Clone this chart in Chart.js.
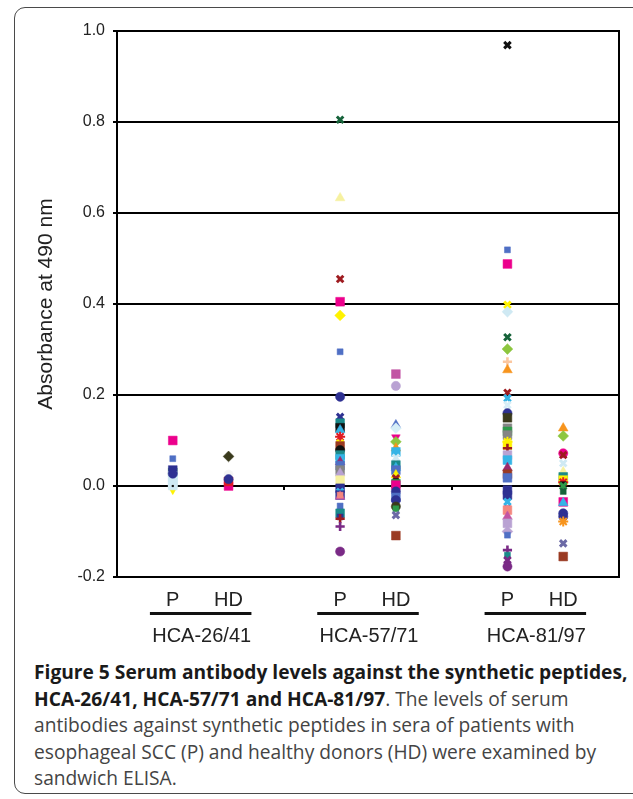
<!DOCTYPE html>
<html>
<head>
<meta charset="utf-8">
<script src="https://cdn.jsdelivr.net/npm/chart.js@4.4.1/dist/chart.umd.min.js"></script>
<style>
  html, body { margin: 0; padding: 0; background: #fff; overflow: hidden; }
  #wrap { position: relative; width: 633px; height: 799px; overflow: hidden; }
  #frame { position: absolute; left: 14px; top: 7px; width: 700px; height: 787px;
           border: 1.5px solid #4a4a4a; border-radius: 11px; box-sizing: border-box; }
  #c { position: absolute; left: 0; top: 0; }
  #caption { position: absolute; left: 34px; top: 659px; white-space: nowrap;
             font-family: "Open Sans", sans-serif; font-size: 19.2px; line-height: 26.6px; color: #444; }
  #caption b { color: #1a1a1a; font-weight: 700; }
</style>
</head>
<body>
<div id="wrap">
  <div id="frame"></div>
  <canvas id="c" width="633" height="658"></canvas>
  <div id="caption"><b>Figure 5 Serum antibody levels against the synthetic peptides,<br>HCA-26/41, HCA-57/71 and HCA-81/97</b>. The levels of serum<br>antibodies against synthetic peptides in sera of patients with<br>esophageal SCC (P) and healthy donors (HD) were examined by<br>sandwich ELISA.</div>
</div>
<script>
// ---------- DATA ----------
const groups = ['HCA-26/41', 'HCA-57/71', 'HCA-81/97'];
const subgroups = ['P', 'HD'];
const yTicks = [-0.2, 0.0, 0.2, 0.4, 0.6, 0.8, 1.0];

const p26Values  = [-0.008, 0.100, 0.060, 0.030, 0.035, 0.022, 0.018, 0.012, 0.008, 0.004, 0.001, 0.032, 0.027, 0.0];
const hd26Values = [0.065, 0.025, 0.0, 0.010, 0.015];

const p57Values  = [0.805, 0.633, 0.455, 0.405, 0.375, 0.295, 0.196, 0.152, 0.138, 0.128, 0.123, 0.108, 0.094, 0.088,
                    0.079, 0.068, 0.060, 0.053, 0.045, 0.035, 0.028, 0.013, -0.005, -0.013, -0.020, -0.023, -0.020,
                    -0.044, -0.060, -0.068, -0.072, -0.089, -0.144];
const hd57Values = [0.246, 0.220, 0.134, 0.127, 0.107, 0.097, 0.083, 0.075, 0.062, 0.046, 0.040, 0.035, 0.024, 0.017,
                    0.010, 0.005, 0.002, -0.012, -0.025, -0.031, -0.045, -0.050, -0.064, -0.109];

const p81Values  = [0.969, 0.519, 0.488, 0.398, 0.383, 0.327, 0.301, 0.273, 0.255, 0.205, 0.193, 0.178, 0.160, 0.150,
                    0.127, 0.120, 0.112, 0.097, 0.090, 0.083, 0.068, 0.057, 0.040, 0.026, 0.018, -0.009, -0.020,
                    -0.035, -0.050, -0.053, -0.067, -0.082, -0.100, -0.108, -0.141, -0.152, -0.163, -0.177];
const hd81Values = [0.127, 0.110, 0.072, 0.068, 0.050, 0.031, 0.020, 0.013, 0.008, 0.003, 0.0, -0.012, -0.035, -0.037,
                    -0.060, -0.067, -0.078, -0.126, -0.155];

// ---------- STYLES (marker kind : colour key) ----------
const palette = {
  pink: '#ec008c', blue: '#4f6fc4', navy: '#2e3192', teal: '#1a8a8a', green: '#2e9a4a', dkgreen: '#16633a',
  yellow: '#fff200', ltyellow: '#f6f1a0', ltblue: '#cfe9f3', cyan: '#35b4e6', lavender: '#b9a2d3', purple: '#7a2a86',
  dkred: '#9e1b20', brown: '#9a3a22', orange: '#f7941d', ygreen: '#8dc63f', peach: '#fbc7a0', gray: '#858585',
  olive: '#3a3a1c', salmon: '#f4877f', slate: '#6c6aa6', dmag: '#c254a4', dkmag: '#9a2a6e', black: '#111111',
  red: '#e01b24', white: '#f4f4f4', ltcyan: '#d6eef7'
};
const p26Marks  = ['td:yellow', 'sq:pink', 'ss:blue', 'sq:green', 'sq:navy', 'sq:ltblue', 'sq:ltblue', 'sq:ltblue',
                   'sq:ltblue', 'sq:ltblue', 'sq:ltblue', 'x:navy', 'ci:navy', 'dot:black'];
const hd26Marks = ['di:olive', 'ci:white', 'sq:pink', 'sq:red', 'ci:navy'];
const p57Marks  = ['x:dkgreen', 'tr:ltyellow', 'x:dkred', 'sq:pink', 'di:yellow', 'ss:blue', 'ci:navy', 'x:navy', 'sq:teal',
                   'sq:black', 'tr:cyan', 'st:red', 'x:yellow', 'sq:brown', 'ci:black', 'sq:teal', 'sq:cyan', 'tr:dkmag',
                   'sq:blue', 'sq:gray', 'tr:lavender', 'sq:ltyellow', 'sq:navy', 'x:cyan', 'sq:navy', 'tr:dmag',
                   'ss:salmon', 'ss:blue', 'sq:teal', 'ss:navy', 'pl:dkred', 'pl:purple', 'ci:purple'];
const hd57Marks = ['sq:dmag', 'ci:lavender', 'tr:blue', 'di:ltcyan', 'td:pink', 'di:ygreen', 'tr:orange', 'sq:cyan',
                   'x:ltblue', 'sq:teal', 'tr:cyan', 'sq:blue', 'tr:yellow', 'x:dkred', 'ss:black', 'sq:green',
                   'sq:pink', 'ci:navy', 'sq:blue', 'ci:navy', 'ci:olive', 'ss:green', 'x:slate', 'sq:brown'];
const p81Marks  = ['x:black', 'ss:blue', 'sq:pink', 'x:yellow', 'di:ltblue', 'x:dkgreen', 'di:ygreen', 'pl:peach',
                   'tr:orange', 'x:dkred', 'x:cyan', 'x:ltcyan', 'ci:navy', 'sq:olive', 'sq:gray', 'sq:green', 'sq:gray',
                   'st:yellow', 'sq:yellow', 'pl:dkred', 'sq:lavender', 'sq:cyan', 'tr:dkmag', 'sq:brown', 'sq:blue',
                   'sq:navy', 'sq:navy', 'x:cyan', 'ss:purple', 'sq:salmon', 'tr:dmag', 'sq:lavender', 'di:lavender',
                   'ss:blue', 'pl:purple', 'ss:teal', 'x:purple', 'ci:purple'];
const hd81Marks = ['tr:orange', 'di:ygreen', 'ci:pink', 'x:dkred', 'x:ltblue', 'tr:ltyellow', 'sq:teal', 'sq:yellow',
                   'st:red', 'ss:black', 'x:green', 'ss:dkgreen', 'sq:pink', 'tr:cyan', 'ci:navy', 'ci:navy',
                   'st:orange', 'x:slate', 'sq:brown'];

const columns = [
  [p26Values, p26Marks], [hd26Values, hd26Marks],
  [p57Values, p57Marks], [hd57Values, hd57Marks],
  [p81Values, p81Marks], [hd81Values, hd81Marks]
];

const kinds = {
  sq:  { style: 'rect',      r: 6.2, bw: 0.5 },
  ss:  { style: 'rect',      r: 4.2, bw: 0.5 },
  ci:  { style: 'circle',    r: 4.6, bw: 0.5 },
  tr:  { style: 'triangle',  r: 5.6, bw: 0.5, rot: 0 },
  td:  { style: 'triangle',  r: 5.0, bw: 0.5, rot: 180 },
  di:  { style: 'rectRot',   r: 5.4, bw: 0.5 },
  x:   { style: 'crossRot',  r: 4.6, bw: 3 },
  pl:  { style: 'cross',     r: 4.6, bw: 2.6 },
  st:  { style: 'star',      r: 5.0, bw: 2 },
  dot: { style: 'rect',      r: 1.5, bw: 0 }
};

function colX(i) { // column position from group / subgroup order
  const g = Math.floor(i / subgroups.length), s = i % subgroups.length;
  return g * (subgroups.length + 1) + s + 1;
}
const xTickValues = columns.map((_, i) => colX(i));
const xMax = groups.length * (subgroups.length + 1);

const datasets = columns.map(([vals, marks], i) => {
  const k = marks.map(m => kinds[m.split(':')[0]]);
  const c = marks.map(m => palette[m.split(':')[1]]);
  return {
    label: subgroups[i % 2] + ' ' + groups[Math.floor(i / 2)],
    data: vals.map(v => ({ x: colX(i), y: v })),
    pointStyle: k.map(o => o.style),
    pointRadius: k.map(o => o.r),
    pointRotation: k.map(o => o.rot || 0),
    borderWidth: k.map(o => o.bw),
    backgroundColor: c,
    borderColor: c,
    pointHoverRadius: k.map(o => o.r)
  };
});

const FONT = '"Liberation Sans", Arial, sans-serif';

const decor = {
  id: 'decor',
  afterDraw(chart) {
    const { ctx, chartArea: a, scales: { x, y } } = chart;
    ctx.save();
    // right border
    ctx.strokeStyle = '#000';
    ctx.lineWidth = 2;
    ctx.beginPath();
    ctx.moveTo(a.right, a.top - 1);
    ctx.lineTo(a.right, a.bottom + 1);
    ctx.stroke();
    // small category separator ticks on zero line
    const y0 = y.getPixelForValue(0);
    for (let g = 1; g < groups.length; g++) {
      const px = x.getPixelForValue(g * (subgroups.length + 1));
      ctx.fillStyle = '#000';
      ctx.fillRect(Math.round(px) - 1, y0 + 1, 2, 3);
    }
    // group underlines and labels
    ctx.font = '20px ' + FONT;
    ctx.textAlign = 'center';
    ctx.textBaseline = 'middle';
    groups.forEach((name, g) => {
      const c = g * (subgroups.length + 1) + 1.5;
      const l = x.getPixelForValue(c - 0.91), r = x.getPixelForValue(c + 0.91);
      ctx.fillStyle = '#111';
      ctx.fillRect(l, a.bottom + 35, r - l, 3);
      ctx.fillStyle = '#222';
      ctx.fillText(name, (l + r) / 2 + 1, a.bottom + 59);
    });
    ctx.restore();
  }
};

new Chart(document.getElementById('c'), {
  type: 'scatter',
  data: { datasets },
  options: {
    responsive: false,
    animation: false,
    devicePixelRatio: 1,
    layout: { padding: { top: 31, right: 14, left: 0, bottom: 0 } },
    plugins: { legend: { display: false }, tooltip: { enabled: false } },
    scales: {
      x: {
        type: 'linear', min: 0, max: xMax,
        grid: { display: false, drawTicks: false },
        border: { display: true, color: '#000', width: 2 },
        afterBuildTicks: s => { s.ticks = xTickValues.map(v => ({ value: v })); },
        afterFit: s => { s.height = 81; },
        ticks: {
          autoSkip: false, maxRotation: 0, padding: 11,
          color: '#222', font: { family: FONT, size: 20 },
          callback: (v) => subgroups[(xTickValues.indexOf(v)) % 2]
        }
      },
      y: {
        min: -0.2, max: 1.0,
        afterBuildTicks: s => { s.ticks = yTicks.map(v => ({ value: v })); },
        afterFit: s => { s.width = 117; },
        grid: { color: '#000', lineWidth: 2, tickLength: 4, drawTicks: true },
        border: { display: true, color: '#000', width: 2 },
        ticks: {
          padding: 8, color: '#222', font: { family: FONT, size: 16 },
          callback: v => v.toFixed(1)
        },
        title: {
          display: true, text: 'Absorbance at 490 nm', color: '#222',
          font: { family: FONT, size: 21 }, padding: { top: 34, bottom: 0 }
        }
      }
    }
  },
  plugins: [decor]
});
</script>
</body>
</html>
